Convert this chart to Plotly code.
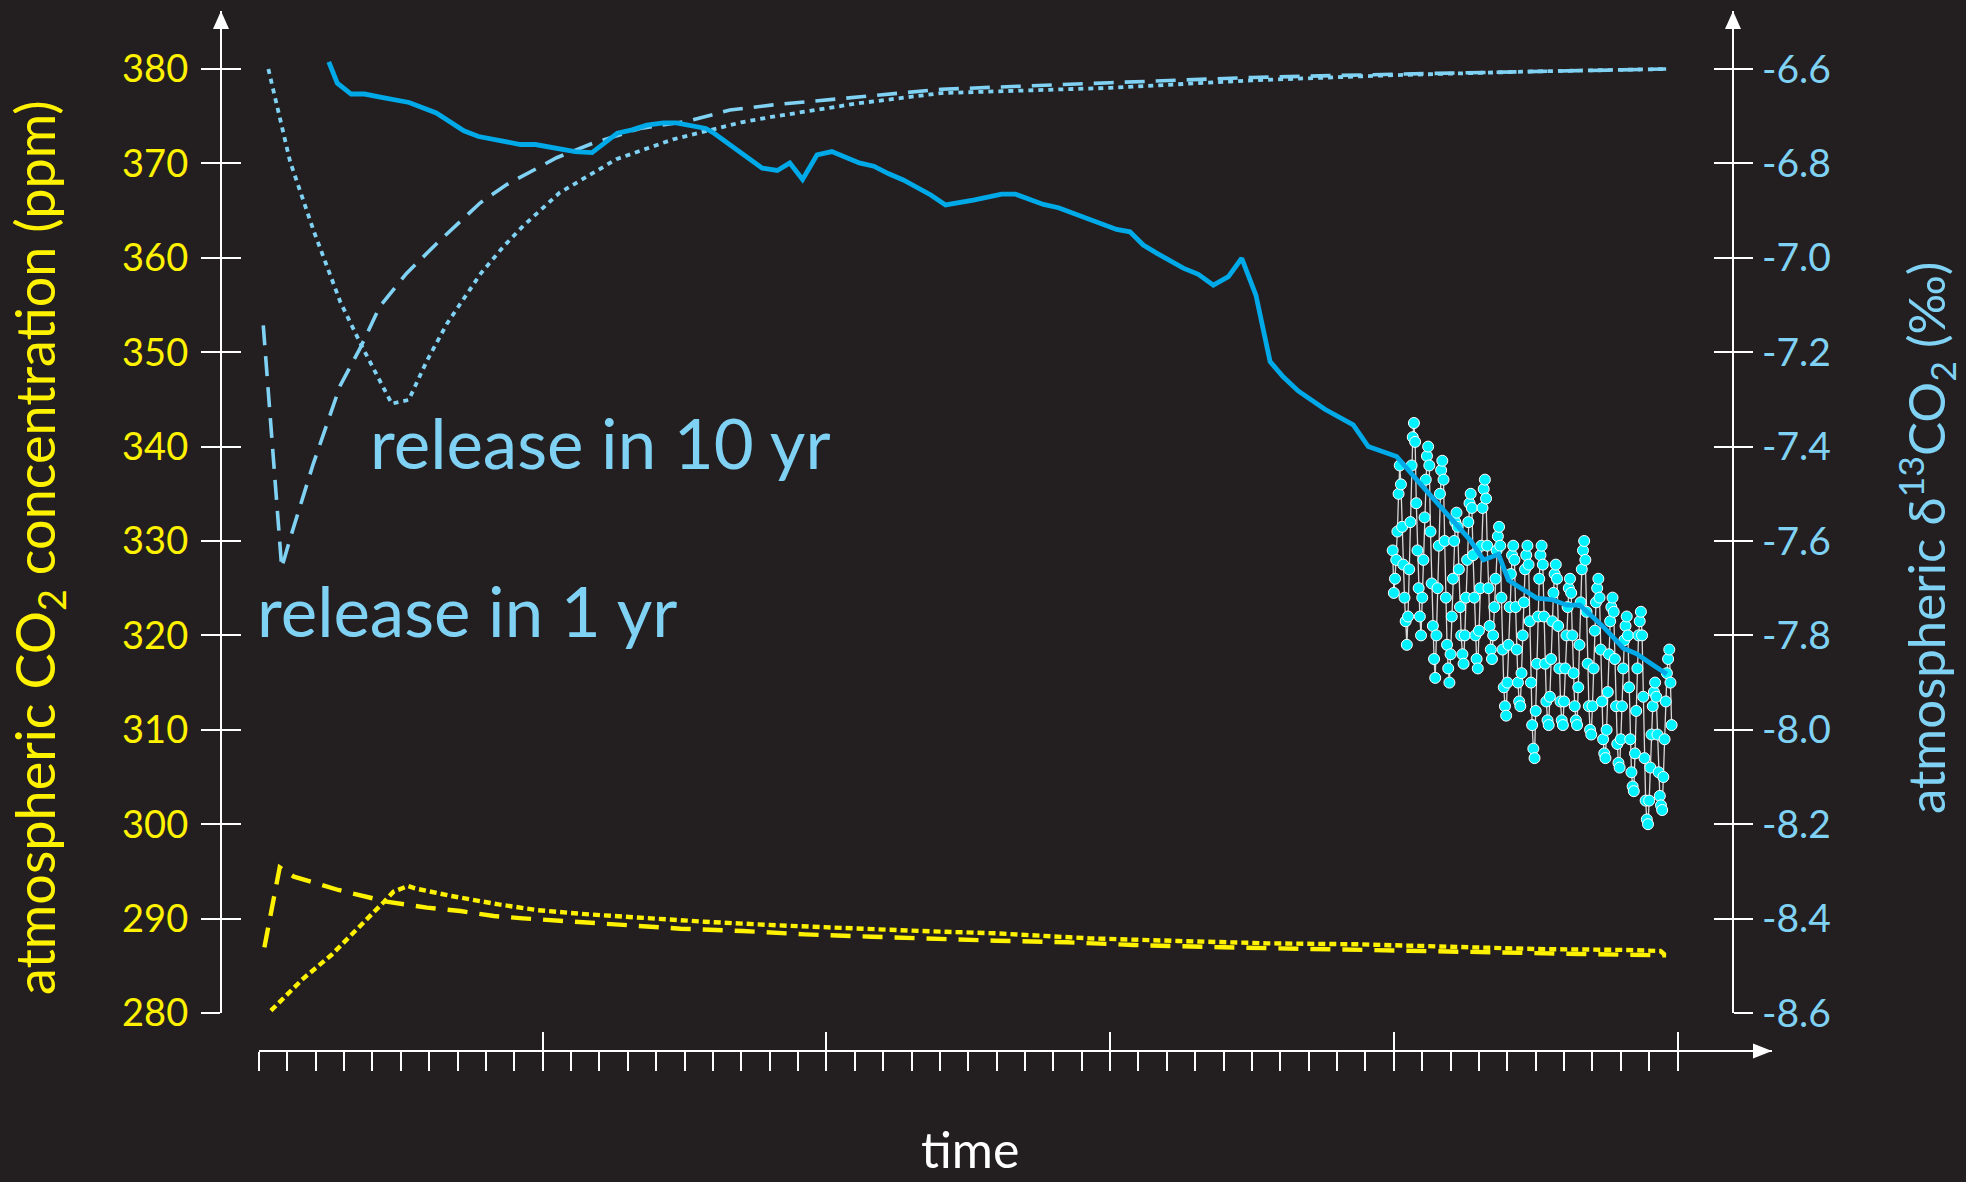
import plotly.graph_objects as go

# ---------------------------------------------------------------- data
# time axis: years after the start of the release (0-100)
major_years = [0, 20, 40, 60, 80, 100]
minor_years = [y for y in range(2, 100, 2) if y % 20 != 0]

ppm_ticks = [280, 290, 300, 310, 320, 330, 340, 350, 360, 370, 380]
d13_ticks = [-8.6, -8.4, -8.2, -8.0, -7.8, -7.6, -7.4, -7.2, -7.0, -6.8, -6.6]

# CO2 concentration after a release spread over 1 yr (ppm)
co2_1yr_years = [0.38, 1.46, 2.46, 5.6, 8.98, 11.84, 14.2, 16.56, 18.6, 21.3, 25.34,
                 29.72, 34.1, 38.48, 43.2, 48.26, 51.94, 56.96, 61.68, 67.96, 74.26,
                 80.56, 86.86, 93.12, 97.4, 99.2]
co2_1yr_ppm = [286.96, 295.43, 294.44, 293.03, 291.8, 291.16, 290.8, 290.27, 290.03,
               289.78, 289.43, 288.93, 288.69, 288.33, 288.08, 287.8, 287.66, 287.49,
               287.2, 286.96, 286.75, 286.6, 286.43, 286.25, 286.11, 286.11]

# CO2 concentration after a release spread over 10 yr (ppm)
co2_10yr_years = [0.84, 3.14, 5.1, 7.12, 8.82, 9.48, 10.5, 11.0, 13.54, 16.9, 19.6, 23.0,
                  26.36, 31.4, 36.48, 41.54, 46.6, 51.94, 58.54, 64.8, 71.12, 77.4,
                  83.72, 90.0, 96.32, 98.8, 99.2]
co2_10yr_ppm = [280.25, 283.68, 286.14, 289.14, 291.79, 292.85, 293.45, 293.2, 292.4,
                291.5, 290.9, 290.47, 290.14, 289.67, 289.29, 288.97, 288.69, 288.44,
                287.91, 287.63, 287.38, 287.28, 287.02, 286.78, 286.68, 286.57, 286.04]

# delta13C response to the 1 yr release (permil)
d13_1yr_years = [0.3, 1.6, 2.18, 3.82, 5.72, 7.12, 8.52, 10.4, 12.76, 15.58, 17.46, 20.98,
                 23.56, 26.86, 30.3, 33.2, 36.24, 42.16, 48.1, 60.0, 70.0, 80.0, 90.0, 99.2]
d13_1yr_vals = [-7.143, -7.657, -7.596, -7.437, -7.271, -7.192, -7.103, -7.033, -6.963,
                -6.884, -6.845, -6.788, -6.757, -6.726, -6.71, -6.687, -6.676, -6.659,
                -6.643, -6.629, -6.618, -6.611, -6.605, -6.600]

# delta13C response to the 10 yr release (permil)
d13_10yr_years = [0.66, 2.2, 3.88, 5.74, 7.16, 9.36, 10.56, 11.84, 13.26, 15.64, 17.24,
                  18.64, 21.2, 25.2, 29.2, 34.0, 36.24, 42.16, 48.1, 60.0, 70.0, 80.0,
                  90.0, 99.2]
d13_10yr_vals = [-6.600, -6.797, -6.945, -7.094, -7.182, -7.309, -7.301, -7.218, -7.139,
                 -7.033, -6.976, -6.932, -6.862, -6.791, -6.749, -6.713, -6.701, -6.673,
                 -6.651, -6.640, -6.624, -6.613, -6.605, -6.600]

# observed atmospheric delta13C record (ice core / firn + annual means)
obs_years = [4.92, 5.52, 6.5, 7.44, 8.64, 10.58, 12.5, 14.44, 15.48, 18.44, 19.48, 22.28,
             23.48, 25.26, 26.3, 27.34, 28.52, 29.42, 31.5, 32.08, 35.48, 36.54, 37.42,
             38.32, 39.34, 40.38, 42.32, 43.34, 44.4, 45.42, 47.36, 48.4, 50.36, 52.36,
             53.3, 55.3, 56.36, 58.58, 60.46, 61.4, 62.34, 63.28, 65.16, 66.22, 67.28,
             68.34, 69.28, 70.28, 71.28, 72.2, 73.26, 75.14, 77.14, 78.2, 80.2, 81.84,
             83.74, 85.38, 86.32, 87.38, 88.08, 89.14, 90.08, 91.14, 92.2, 93.12, 94.78,
             96.18, 97.12, 98.3, 99.24]
obs_vals = [-6.585, -6.630, -6.653, -6.653, -6.660, -6.671, -6.693, -6.731, -6.743, -6.760,
            -6.760, -6.775, -6.777, -6.736, -6.729, -6.719, -6.714, -6.714, -6.726, -6.736,
            -6.810, -6.815, -6.799, -6.834, -6.782, -6.775, -6.799, -6.806, -6.822, -6.835,
            -6.867, -6.888, -6.878, -6.865, -6.865, -6.887, -6.894, -6.918, -6.940, -6.945,
            -6.973, -6.990, -7.022, -7.035, -7.058, -7.040, -7.001, -7.079, -7.220, -7.252,
            -7.282, -7.321, -7.354, -7.400, -7.421, -7.478, -7.541, -7.598, -7.640, -7.628,
            -7.683, -7.704, -7.721, -7.724, -7.736, -7.736, -7.782, -7.827, -7.839, -7.863,
            -7.882]

# monthly flask measurements, one row per year of sampling
flask_first_year = 79.92
flask_rows = [
    [-7.62, -7.71, -7.68, -7.64, -7.58, -7.50, -7.44, -7.48, -7.57, -7.65, -7.72, -7.77],
    [-7.82, -7.76, -7.66, -7.56, -7.44, -7.38, -7.35, -7.39, -7.52, -7.62, -7.70, -7.76],
    [-7.80, -7.72, -7.64, -7.55, -7.47, -7.42, -7.40, -7.44, -7.58, -7.69, -7.78, -7.85],
    [-7.89, -7.80, -7.70, -7.61, -7.50, -7.45, -7.43, -7.47, -7.60, -7.72, -7.82, -7.87],
    [-7.90, -7.84, -7.76, -7.68, -7.60, -7.56, -7.54, -7.57, -7.66, -7.74, -7.80, -7.84],
    [-7.86, -7.80, -7.72, -7.64, -7.56, -7.52, -7.50, -7.53, -7.63, -7.72, -7.80, -7.85],
    [-7.87, -7.79, -7.70, -7.61, -7.53, -7.49, -7.47, -7.51, -7.61, -7.70, -7.78, -7.83],
    [-7.85, -7.80, -7.74, -7.68, -7.62, -7.59, -7.57, -7.61, -7.72, -7.83, -7.91, -7.95],
    [-7.97, -7.90, -7.82, -7.74, -7.67, -7.63, -7.61, -7.64, -7.74, -7.83, -7.90, -7.94],
    [-7.95, -7.88, -7.80, -7.73, -7.66, -7.63, -7.61, -7.65, -7.77, -7.90, -7.99, -8.04],
    [-8.06, -7.96, -7.86, -7.76, -7.68, -7.63, -7.61, -7.65, -7.76, -7.86, -7.94, -7.98],
    [-7.99, -7.93, -7.85, -7.77, -7.71, -7.67, -7.65, -7.68, -7.78, -7.87, -7.94, -7.98],
    [-7.99, -7.94, -7.87, -7.80, -7.74, -7.70, -7.68, -7.71, -7.80, -7.88, -7.95, -7.98],
    [-7.99, -7.91, -7.82, -7.73, -7.66, -7.62, -7.60, -7.64, -7.75, -7.86, -7.95, -8.00],
    [-8.01, -7.95, -7.87, -7.79, -7.73, -7.70, -7.68, -7.72, -7.83, -7.94, -8.02, -8.05],
    [-8.06, -8.00, -7.92, -7.84, -7.77, -7.74, -7.72, -7.75, -7.85, -7.95, -8.03, -8.07],
    [-8.08, -8.02, -7.95, -7.87, -7.81, -7.78, -7.76, -7.80, -7.91, -8.02, -8.09, -8.12],
    [-8.13, -8.05, -7.96, -7.87, -7.80, -7.77, -7.75, -7.80, -7.93, -8.06, -8.15, -8.19],
    [-8.20, -8.15, -8.08, -8.01, -7.95, -7.92, -7.90, -7.93, -8.01, -8.09, -8.14, -8.16],
    [-8.17, -8.10, -8.02, -7.94, -7.88, -7.85, -7.83, -7.90, -7.99],
]

flask_vals = [v for row in flask_rows for v in row]
flask_years = [flask_first_year + i / 12 for i in range(len(flask_vals))]

# ---------------------------------------------------------------- styling
W, H = 1966, 1182
BG = "#231f20"
YELLOW = "#fff200"
LIGHT_BLUE = "#80d2f4"
BLUE = "#00a9e8"
CYAN = "#00f2ff"
FONT = "Lato, 'Century Gothic', sans-serif"

# frame geometry in page pixels
X0_PX, XEND_PX = 259, 1772          # time axis start / arrow tip
YEAR_PX = 14.185                    # pixels per year
XAXIS_Y_PX = 1051
YBOT_PX, YTOP_PX = 1013, 11         # 280 ppm row / arrow tip
PPM_PX = 9.44                       # pixels per ppm
LEFT_AX_PX, RIGHT_AX_PX = 221, 1733


def fx(p):
    return p / W


def fy(p):
    return 1 - p / H


x_range = [0, (XEND_PX - X0_PX) / YEAR_PX]
y_range = [280, 280 + (YBOT_PX - YTOP_PX) / PPM_PX]
d_per_ppm = 2.0 / 100.0
y2_range = [-8.6, -8.6 + (y_range[1] - 280) * d_per_ppm]
y_domain = [fy(YBOT_PX), fy(YTOP_PX)]
x_domain = [fx(X0_PX), fx(XEND_PX)]

fig = go.Figure()

# model responses: CO2 concentration
fig.add_trace(go.Scatter(x=co2_1yr_years, y=co2_1yr_ppm, mode="lines",
                         line=dict(color=YELLOW, width=4.4, dash="20px,12px")))
fig.add_trace(go.Scatter(x=co2_10yr_years, y=co2_10yr_ppm, mode="lines",
                         line=dict(color=YELLOW, width=4.4, dash="7px,4px")))

# model responses: delta13C
fig.add_trace(go.Scatter(x=d13_1yr_years, y=d13_1yr_vals, mode="lines", yaxis="y2",
                         line=dict(color=LIGHT_BLUE, width=3.6, dash="20px,11px")))
fig.add_trace(go.Scatter(x=d13_10yr_years, y=d13_10yr_vals, mode="lines", yaxis="y2",
                         line=dict(color=LIGHT_BLUE, width=3.8, dash="5px,5px")))

# flask measurements
fig.add_trace(go.Scatter(x=flask_years, y=flask_vals, mode="lines+markers", yaxis="y2",
                         line=dict(color="#d8d8d8", width=1.3),
                         marker=dict(size=11, color=CYAN,
                                     line=dict(color="white", width=1))))

# observed record
fig.add_trace(go.Scatter(x=obs_years, y=obs_vals, mode="lines", yaxis="y2",
                         line=dict(color=BLUE, width=4.8)))

# carriers for the tick-only overlay axes
fig.add_trace(go.Scatter(x=[None], y=[None], yaxis="y3", hoverinfo="skip"))
fig.add_trace(go.Scatter(x=[None], y=[None], yaxis="y4", hoverinfo="skip"))
fig.add_trace(go.Scatter(x=[None], y=[None], xaxis="x2", hoverinfo="skip"))

tick_common = dict(tickcolor="white", tickwidth=2.2, ticklen=19, showgrid=False,
                   zeroline=False, tickmode="array", automargin=False)

fig.update_layout(
    width=W, height=H, margin=dict(l=0, r=0, t=0, b=0, pad=0, autoexpand=False),
    paper_bgcolor=BG, plot_bgcolor=BG, showlegend=False,
    xaxis=dict(domain=x_domain, range=x_range, anchor="free", position=fy(XAXIS_Y_PX),
               showline=True, linecolor="white", linewidth=2.4,
               tickvals=major_years, ticks="outside", showticklabels=False,
               minor=dict(tickvals=minor_years, ticks="outside", ticklen=19,
                          tickwidth=2, tickcolor="white", showgrid=False),
               **tick_common),
    xaxis2=dict(overlaying="x", range=x_range, anchor="free", position=fy(XAXIS_Y_PX),
                showline=False, tickvals=major_years, ticks="inside",
                showticklabels=False, **tick_common),
    yaxis=dict(domain=y_domain, range=y_range, anchor="free", position=fx(LEFT_AX_PX),
               showline=True, linecolor="white", linewidth=2.4,
               tickvals=ppm_ticks, ticktext=[str(v) for v in ppm_ticks],
               ticks="outside", ticklabelstandoff=5,
               tickfont=dict(family=FONT, size=38, color=YELLOW), **tick_common),
    yaxis3=dict(overlaying="y", range=y_range, anchor="free", position=fx(LEFT_AX_PX),
                showline=False, tickvals=ppm_ticks, ticks="inside",
                showticklabels=False, **tick_common),
    yaxis2=dict(overlaying="y", side="right", range=y2_range, anchor="free",
                position=fx(RIGHT_AX_PX), showline=True, linecolor="white", linewidth=2.4,
                tickvals=d13_ticks, ticktext=[f"{v:.1f}" for v in d13_ticks],
                ticks="outside", ticklabelstandoff=1,
                tickfont=dict(family=FONT, size=39, color=LIGHT_BLUE), **tick_common),
    yaxis4=dict(overlaying="y", side="right", range=y2_range, anchor="free",
                position=fx(RIGHT_AX_PX), showline=False, tickvals=d13_ticks,
                ticks="inside", showticklabels=False, **tick_common),
)

# arrowheads on the axis ends
def arrow_path(pts):
    return "M " + " L ".join(f"{fx(a):.5f},{fy(b):.5f}" for a, b in pts) + " Z"


for pts in ([(LEFT_AX_PX, YTOP_PX), (LEFT_AX_PX - 8, YTOP_PX + 18), (LEFT_AX_PX + 8, YTOP_PX + 18)],
            [(RIGHT_AX_PX, YTOP_PX), (RIGHT_AX_PX - 8, YTOP_PX + 18), (RIGHT_AX_PX + 8, YTOP_PX + 18)],
            [(XEND_PX, XAXIS_Y_PX), (XEND_PX - 19, XAXIS_Y_PX - 7.5), (XEND_PX - 19, XAXIS_Y_PX + 7.5)]):
    fig.add_shape(type="path", xref="paper", yref="paper", path=arrow_path(pts),
                  fillcolor="white", line=dict(color="white", width=0))

# text
fig.add_annotation(xref="paper", yref="paper", x=fx(38), y=fy(548), showarrow=False,
                   xanchor="center", yanchor="middle",
                   text="atmospheric CO<sub>2</sub> concentration (ppm)", textangle=-90,
                   font=dict(family=FONT, size=54, color=YELLOW))
fig.add_annotation(xref="paper", yref="paper", x=fx(1926), y=fy(538), showarrow=False,
                   xanchor="center", yanchor="middle",
                   text="atmospheric \u03b4<sup>13</sup>CO<sub>2</sub> (\u2030)", textangle=-90,
                   font=dict(family=FONT, size=51, color=LIGHT_BLUE))
fig.add_annotation(xref="paper", yref="paper", x=fx(970), y=fy(1149), showarrow=False,
                   xanchor="center", yanchor="middle",
                   text="time", font=dict(family=FONT, size=50, color="white"))
fig.add_annotation(xref="paper", yref="paper", x=fx(368), y=fy(443), showarrow=False,
                   xanchor="left", yanchor="middle", text="release in 10 yr",
                   font=dict(family=FONT, size=69, color=LIGHT_BLUE))
fig.add_annotation(xref="paper", yref="paper", x=fx(255), y=fy(610), showarrow=False,
                   xanchor="left", yanchor="middle", text="release in 1 yr",
                   font=dict(family=FONT, size=69, color=LIGHT_BLUE))

fig.write_html("out.html")
